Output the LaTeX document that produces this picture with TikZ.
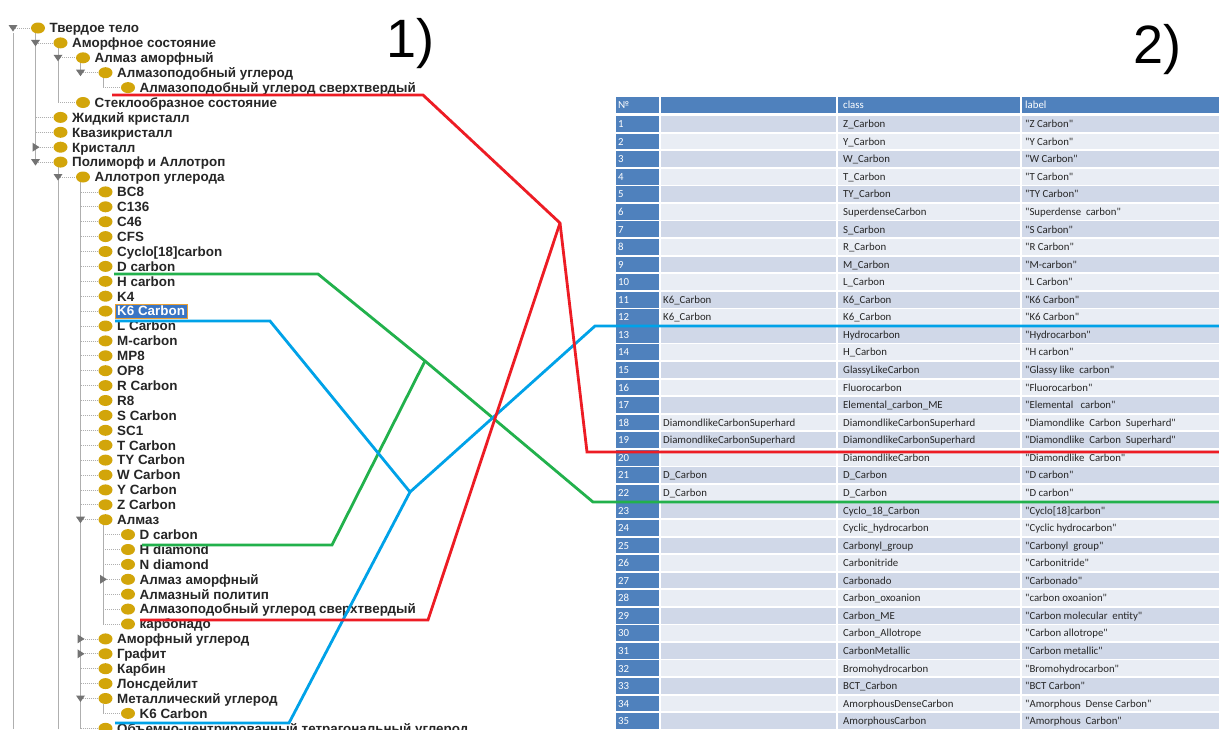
\documentclass[tikz,border=0pt]{standalone}
\usepackage{fontspec}
\setmainfont{Liberation Sans}
\newfontfamily\calib{Carlito}
\definecolor{bulletcol}{RGB}{210,165,10}
\definecolor{treeln}{RGB}{175,175,175}
\definecolor{togglecol}{RGB}{115,115,115}
\definecolor{hdrblue}{RGB}{79,129,189}
\definecolor{rowdark}{RGB}{208,216,232}
\definecolor{rowlight}{RGB}{233,237,244}
\definecolor{pred}{RGB}{237,28,36}
\definecolor{pgreen}{RGB}{34,177,76}
\definecolor{pblue}{RGB}{0,162,232}
\definecolor{hlblue}{RGB}{58,117,196}
\definecolor{hlorange}{RGB}{235,160,50}
\newcommand\TreeItem[4]{%
  \pgfmathsetmacro\ty{28+14.9*#1}%
  \pgfmathsetmacro\tx{38+22.5*#2}%
  \pgfmathsetmacro\tv{13+22.5*#2}%
  \draw[treeln,line width=0.7pt,dash pattern=on 1pt off 1pt] (\tv,\ty) -- (\tx-7,\ty);
  \fill[bulletcol] (\tx,\ty) ellipse [x radius=7pt,y radius=5.5pt];
  \node[treetext] (#3) at (\tx+11.5,\ty+4.8) {#4};}
\newcommand\Down[2]{%
  \pgfmathsetmacro\ty{28+14.9*#1}%
  \pgfmathsetmacro\tv{13+22.5*#2}%
  \fill[togglecol] (\tv-4.5,\ty-3) -- (\tv+4.5,\ty-3) -- (\tv,\ty+3.5) -- cycle;}
\newcommand\Right[2]{%
  \pgfmathsetmacro\ty{28+14.9*#1}%
  \pgfmathsetmacro\tv{13+22.5*#2}%
  \fill[togglecol] (\tv-3,\ty-4.5) -- (\tv-3,\ty+4.5) -- (\tv+4,\ty) -- cycle;}
\newcommand\VLine[3]{%
  \draw[treeln,line width=0.8pt] (#1,{28+14.9*#2+5}) -- (#1,{28+14.9*#3});}
\begin{document}
\begin{tikzpicture}[x=1pt,y=-1pt,
  treetext/.style={anchor=base west,inner sep=0pt,font=\fontsize{13.4}{14}\selectfont\bfseries,text=black!85},
  tabtxt/.style={anchor=base west,inner sep=0pt,font=\calib\fontsize{10.8}{11}\selectfont,text=black!85},
  tabnum/.style={anchor=base west,inner sep=0pt,font=\calib\fontsize{10.8}{11}\selectfont,text=white},
  conn/.style={line width=2.8pt,line join=miter},
  big/.style={anchor=base west,inner sep=0pt,font=\fontsize{54}{60}\selectfont}]
\useasboundingbox (0,0) rectangle (1219,729);
\clip (0,0) rectangle (1219,729);
\fill[white] (0,0) rectangle (1219,729);

% ---------- tree structure lines ----------
\draw[treeln,line width=0.8pt] (13,33) -- (13,729);
\VLine{35.5}{0}{9}
\VLine{58}{1}{5}
\draw[treeln,line width=0.8pt] (58,{28+14.9*9+5}) -- (58,729);
\VLine{80.5}{2}{3}
\draw[treeln,line width=0.8pt] (80.5,{28+14.9*10+5}) -- (80.5,729);
\VLine{103}{3}{4}
\VLine{103}{33}{40}
\VLine{103}{45}{46}

% ---------- tree items ----------
\TreeItem{0}{0}{t0}{Твердое тело}\Down{0}{0}
\TreeItem{1}{1}{t1}{Аморфное состояние}\Down{1}{1}
\TreeItem{2}{2}{t2}{Алмаз аморфный}\Down{2}{2}
\TreeItem{3}{3}{t3}{Алмазоподобный углерод}\Down{3}{3}
\TreeItem{4}{4}{t4}{Алмазоподобный углерод сверхтвердый}
\TreeItem{5}{2}{t5}{Стеклообразное состояние}
\TreeItem{6}{1}{t6}{Жидкий кристалл}
\TreeItem{7}{1}{t7}{Квазикристалл}
\TreeItem{8}{1}{t8}{Кристалл}\Right{8}{1}
\TreeItem{9}{1}{t9}{Полиморф и Аллотроп}\Down{9}{1}
\TreeItem{10}{2}{t10}{Аллотроп углерода}\Down{10}{2}
\TreeItem{11}{3}{t11}{BC8}
\TreeItem{12}{3}{t12}{C136}
\TreeItem{13}{3}{t13}{C46}
\TreeItem{14}{3}{t14}{CFS}
\TreeItem{15}{3}{t15}{Cyclo[18]carbon}
\TreeItem{16}{3}{t16}{D carbon}
\TreeItem{17}{3}{t17}{H carbon}
\TreeItem{18}{3}{t18}{K4}
\fill[hlblue] (115.5,304) rectangle (187,318.5);
\draw[hlorange,line width=0.9pt] (115.5,304) rectangle (187,318.5);
\TreeItem{19}{3}{t19}{\textcolor{white}{K6 Carbon}}
\TreeItem{20}{3}{t20}{L Carbon}
\TreeItem{21}{3}{t21}{M-carbon}
\TreeItem{22}{3}{t22}{MP8}
\TreeItem{23}{3}{t23}{OP8}
\TreeItem{24}{3}{t24}{R Carbon}
\TreeItem{25}{3}{t25}{R8}
\TreeItem{26}{3}{t26}{S Carbon}
\TreeItem{27}{3}{t27}{SC1}
\TreeItem{28}{3}{t28}{T Carbon}
\TreeItem{29}{3}{t29}{TY Carbon}
\TreeItem{30}{3}{t30}{W Carbon}
\TreeItem{31}{3}{t31}{Y Carbon}
\TreeItem{32}{3}{t32}{Z Carbon}
\TreeItem{33}{3}{t33}{Алмаз}\Down{33}{3}
\TreeItem{34}{4}{t34}{D carbon}
\TreeItem{35}{4}{t35}{H diamond}
\TreeItem{36}{4}{t36}{N diamond}
\TreeItem{37}{4}{t37}{Алмаз аморфный}\Right{37}{4}
\TreeItem{38}{4}{t38}{Алмазный политип}
\TreeItem{39}{4}{t39}{Алмазоподобный углерод сверхтвердый}
\TreeItem{40}{4}{t40}{карбонадо}
\TreeItem{41}{3}{t41}{Аморфный углерод}\Right{41}{3}
\TreeItem{42}{3}{t42}{Графит}\Right{42}{3}
\TreeItem{43}{3}{t43}{Карбин}
\TreeItem{44}{3}{t44}{Лонсдейлит}
\TreeItem{45}{3}{t45}{Металлический углерод}\Down{45}{3}
\TreeItem{46}{4}{t46}{K6 Carbon}
\TreeItem{47}{3}{t47}{Объемно-центрированный тетрагональный углерод}

% ---------- labels ----------
\node[big] (lab1) at (386,57) {1)};
\node[big] (lab2) at (1133,63) {2)};

% ---------- table ----------
\fill[hdrblue] (616,96.5) rectangle (659,113);
\fill[hdrblue] (661,96.5) rectangle (836,113);
\fill[hdrblue] (838,96.5) rectangle (1020,113);
\fill[hdrblue] (1022,96.5) rectangle (1219,113);
\node[tabnum] (hnum) at (618,108) {№};
\node[tabnum] (hcls) at (843,108) {class};
\node[tabnum] (hlab) at (1025,108) {label};
\foreach \n/\a/\b/\c in {
 1/{}/{Z\_Carbon}/{"Z Carbon"},
 2/{}/{Y\_Carbon}/{"Y Carbon"},
 3/{}/{W\_Carbon}/{"W Carbon"},
 4/{}/{T\_Carbon}/{"T Carbon"},
 5/{}/{TY\_Carbon}/{"TY Carbon"},
 6/{}/{SuperdenseCarbon}/{"Superdense\ \ carbon"},
 7/{}/{S\_Carbon}/{"S Carbon"},
 8/{}/{R\_Carbon}/{"R Carbon"},
 9/{}/{M\_Carbon}/{"M-carbon"},
 10/{}/{L\_Carbon}/{"L Carbon"},
 11/{K6\_Carbon}/{K6\_Carbon}/{"K6 Carbon"},
 12/{K6\_Carbon}/{K6\_Carbon}/{"K6 Carbon"},
 13/{}/{Hydrocarbon}/{"Hydrocarbon"},
 14/{}/{H\_Carbon}/{"H carbon"},
 15/{}/{GlassyLikeCarbon}/{"Glassy like\ \ carbon"},
 16/{}/{Fluorocarbon}/{"Fluorocarbon"},
 17/{}/{Elemental\_carbon\_ME}/{"Elemental\ \ \ carbon"},
 18/{DiamondlikeCarbonSuperhard}/{DiamondlikeCarbonSuperhard}/{"Diamondlike\ \ Carbon\ \ Superhard"},
 19/{DiamondlikeCarbonSuperhard}/{DiamondlikeCarbonSuperhard}/{"Diamondlike\ \ Carbon\ \ Superhard"},
 20/{}/{DiamondlikeCarbon}/{"Diamondlike\ \ Carbon"},
 21/{D\_Carbon}/{D\_Carbon}/{"D carbon"},
 22/{D\_Carbon}/{D\_Carbon}/{"D carbon"},
 23/{}/{Cyclo\_18\_Carbon}/{"Cyclo[18]carbon"},
 24/{}/{Cyclic\_hydrocarbon}/{"Cyclic hydrocarbon"},
 25/{}/{Carbonyl\_group}/{"Carbonyl\ \ group"},
 26/{}/{Carbonitride}/{"Carbonitride"},
 27/{}/{Carbonado}/{"Carbonado"},
 28/{}/{Carbon\_oxoanion}/{"carbon oxoanion"},
 29/{}/{Carbon\_ME}/{"Carbon molecular\ \ entity"},
 30/{}/{Carbon\_Allotrope}/{"Carbon allotrope"},
 31/{}/{CarbonMetallic}/{"Carbon metallic"},
 32/{}/{Bromohydrocarbon}/{"Bromohydrocarbon"},
 33/{}/{BCT\_Carbon}/{"BCT Carbon"},
 34/{}/{AmorphousDenseCarbon}/{"Amorphous\ \ Dense Carbon"},
 35/{}/{AmorphousCarbon}/{"Amorphous\ \ Carbon"}}{
  \pgfmathsetmacro\ry{124+17.56*(\n-1)}
  \ifodd\n\relax\def\rc{rowdark}\else\def\rc{rowlight}\fi
  \fill[hdrblue] (616,\ry-7.9) rectangle (659,\ry+7.9);
  \fill[\rc] (661,\ry-7.9) rectangle (836,\ry+7.9);
  \fill[\rc] (838,\ry-7.9) rectangle (1020,\ry+7.9);
  \fill[\rc] (1022,\ry-7.9) rectangle (1219,\ry+7.9);
  \node[tabnum] (n\n) at (618,\ry+3.7) {\n};
  \node[tabtxt] (a\n) at (663,\ry+3.7) {\a};
  \node[tabtxt] (b\n) at (843,\ry+3.7) {\b};
  \node[tabtxt] (c\n) at (1025,\ry+3.7) {\c};
}

% ---------- connectors ----------
\coordinate (rA) at (112,95);   \coordinate (rB) at (423,95);
\coordinate (rX) at (560,223);  \coordinate (rC) at (587,452);
\coordinate (rD) at (1219,452); \coordinate (rE) at (428,620);
\coordinate (rF) at (140,620);
\coordinate (gA) at (114,274);  \coordinate (gB) at (318,274);
\coordinate (gX) at (425,361);  \coordinate (gC) at (593,502);
\coordinate (gD) at (1219,502); \coordinate (gE) at (332,545);
\coordinate (gF) at (142,545);
\coordinate (bA) at (115,321);  \coordinate (bB) at (270,321);
\coordinate (bX) at (410,492);  \coordinate (bC) at (595,326);
\coordinate (bD) at (1219,326); \coordinate (bE) at (289,723);
\coordinate (bF) at (115,723);
\draw[conn,pgreen] (gA) -- (gB) -- (gX) -- (gC) -- (gD);
\draw[conn,pgreen] (gX) -- (gE) -- (gF);
\draw[conn,pblue] (bA) -- (bB) -- (bX) -- (bC) -- (bD);
\draw[conn,pblue] (bX) -- (bE) -- (bF);
\draw[conn,pred] (rA) -- (rB) -- (rX) -- (rC) -- (rD);
\draw[conn,pred] (rX) -- (rE) -- (rF);
\end{tikzpicture}
\end{document}
